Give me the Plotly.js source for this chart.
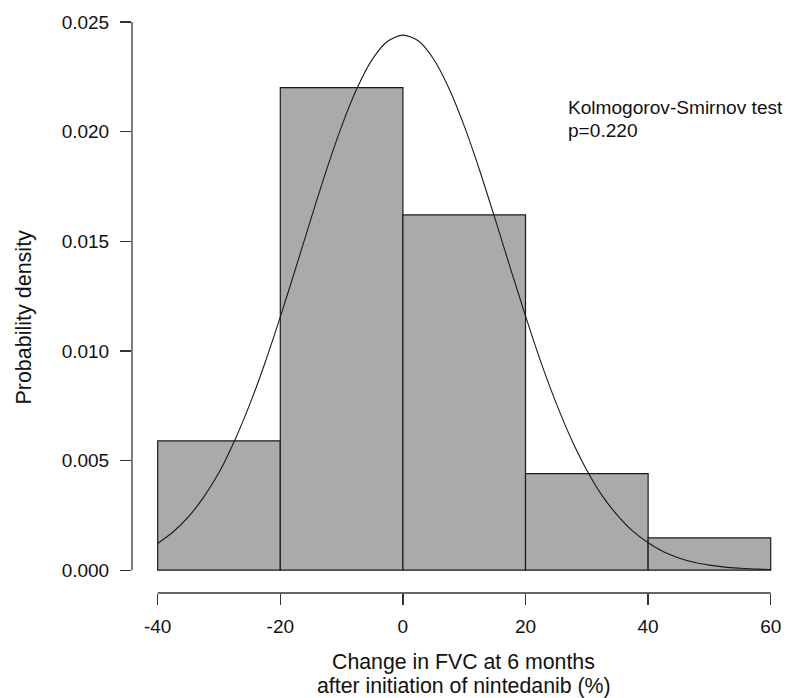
<!DOCTYPE html>
<html>
<head>
<meta charset="utf-8">
<script src="https://cdn.plot.ly/plotly-3.0.1.min.js"></script>
<style>
html, body { margin: 0; padding: 0; overflow: hidden; background: #ffffff; }
#chart { width: 800px; height: 698px; }
</style>
</head>
<body>
<div id="chart"></div>
<script>
// Histogram bins (change in FVC, %) and probability densities
const binEdges = [-40, -20, 0, 20, 40, 60];
const densities = [0.0059, 0.0220, 0.0162, 0.0044, 0.00147];

// Fitted normal curve
const curveX = [-40, -37.5, -35, -32.5, -30, -27.5, -25, -22.5, -20, -17.5, -15, -12.5, -10, -7.5, -5, -2.5,
                0, 2.5, 5, 7.5, 10, 12.5, 15, 17.5, 20, 22.5, 25, 27.5, 30, 32.5, 35, 37.5, 40,
                42.5, 45, 47.5, 50, 52.5, 55, 57.5, 60];
const curveY = [0.00122, 0.00174, 0.00243, 0.00333, 0.00445, 0.00588, 0.00755, 0.00945, 0.01155, 0.01376,
                0.01602, 0.01822, 0.02024, 0.02196, 0.02329, 0.02412,
                0.02440, 0.02414, 0.02331, 0.02198, 0.02026, 0.01825, 0.01605, 0.01380, 0.01160, 0.00950,
                0.00762, 0.00596, 0.00456, 0.00340, 0.00250, 0.00178, 0.00125,
                0.00084, 0.00056, 0.00036, 0.00023, 0.00014, 0.00009, 0.00005, 0.00003];

// Axis ticks
const xTicks = [-40, -20, 0, 20, 40, 60];
const xTickText = ["-40", "-20", "0", "20", "40", "60"];
const yTicks = [0, 0.005, 0.010, 0.015, 0.020, 0.025];
const yTickText = ["0.000", "0.005", "0.010", "0.015", "0.020", "0.025"];

const testLabel = "Kolmogorov-Smirnov test";
const pLabel = "p=0.220";
const xTitle1 = "Change in FVC at 6 months";
const xTitle2 = "after initiation of nintedanib (%)";
const yTitle = "Probability density";

const centers = [];
const widths = [];
for (let i = 0; i < binEdges.length - 1; i++) {
  centers.push((binEdges[i] + binEdges[i + 1]) / 2);
  widths.push(binEdges[i + 1] - binEdges[i]);
}

const FONT = "Liberation Sans, Arial, sans-serif";
const AX = "#333333";
const TXT = "#111111";

const traces = [
  {
    type: "bar",
    x: centers,
    y: densities,
    width: widths,
    marker: { color: "#aaaaaa", line: { color: "#1a1a1a", width: 1.2 } },
    hoverinfo: "skip"
  },
  {
    type: "scatter",
    mode: "lines",
    x: curveX,
    y: curveY,
    line: { color: "#1a1a1a", width: 1.1, shape: "spline", smoothing: 0.8 },
    hoverinfo: "skip"
  }
];

const layout = {
  width: 800,
  height: 698,
  margin: { l: 132, r: 5, t: 0, b: 105 },
  paper_bgcolor: "#ffffff",
  plot_bgcolor: "#ffffff",
  showlegend: false,
  font: { family: FONT, size: 19, color: TXT },
  xaxis: {
    range: [-44.19, 63.96],
    tickvals: xTicks,
    ticktext: xTickText,
    ticks: "outside",
    ticklen: 11,
    tickwidth: 1.3,
    tickcolor: AX,
    showline: false,
    showgrid: false,
    zeroline: false,
    tickfont: { family: FONT, size: 19, color: TXT },
    ticklabelstandoff: 5,
    fixedrange: true
  },
  yaxis: {
    range: [-0.00104, 0.026],
    tickvals: yTicks,
    ticktext: yTickText,
    ticks: "outside",
    ticklen: 11,
    tickwidth: 1.3,
    tickcolor: AX,
    showline: false,
    showgrid: false,
    zeroline: false,
    tickfont: { family: FONT, size: 19, color: TXT },
    ticklabelstandoff: 7,
    fixedrange: true
  },
  shapes: [
    { type: "line", xref: "x", yref: "paper", x0: xTicks[0], x1: xTicks[xTicks.length - 1], y0: 0, y1: 0,
      line: { color: AX, width: 1.3 } },
    { type: "line", xref: "paper", yref: "y", x0: 0, x1: 0, y0: yTicks[0], y1: yTicks[yTicks.length - 1],
      line: { color: AX, width: 1.3 } }
  ],
  annotations: [
    { xref: "x", yref: "y", x: 26.6, y: 0.02108, text: testLabel, showarrow: false,
      xanchor: "left", yanchor: "middle", font: { family: FONT, size: 19.1, color: TXT } },
    { xref: "x", yref: "y", x: 26.6, y: 0.02007, text: pLabel, showarrow: false,
      xanchor: "left", yanchor: "middle", font: { family: FONT, size: 19.1, color: TXT } },
    { xref: "paper", yref: "paper", x: 0.5, y: 0, yshift: -69, text: xTitle1, showarrow: false,
      xanchor: "center", yanchor: "middle", font: { family: FONT, size: 21.3, color: TXT } },
    { xref: "paper", yref: "paper", x: 0.5, y: 0, yshift: -93, text: xTitle2, showarrow: false,
      xanchor: "center", yanchor: "middle", font: { family: FONT, size: 21.3, color: TXT } },
    { xref: "paper", yref: "y", x: 0, xshift: -107.5, y: 0.01154, text: yTitle, showarrow: false,
      textangle: -90, xanchor: "center", yanchor: "middle", font: { family: FONT, size: 21.5, color: TXT } }
  ]
};

Plotly.newPlot("chart", traces, layout, { displayModeBar: false, staticPlot: true, responsive: false });
</script>
</body>
</html>
